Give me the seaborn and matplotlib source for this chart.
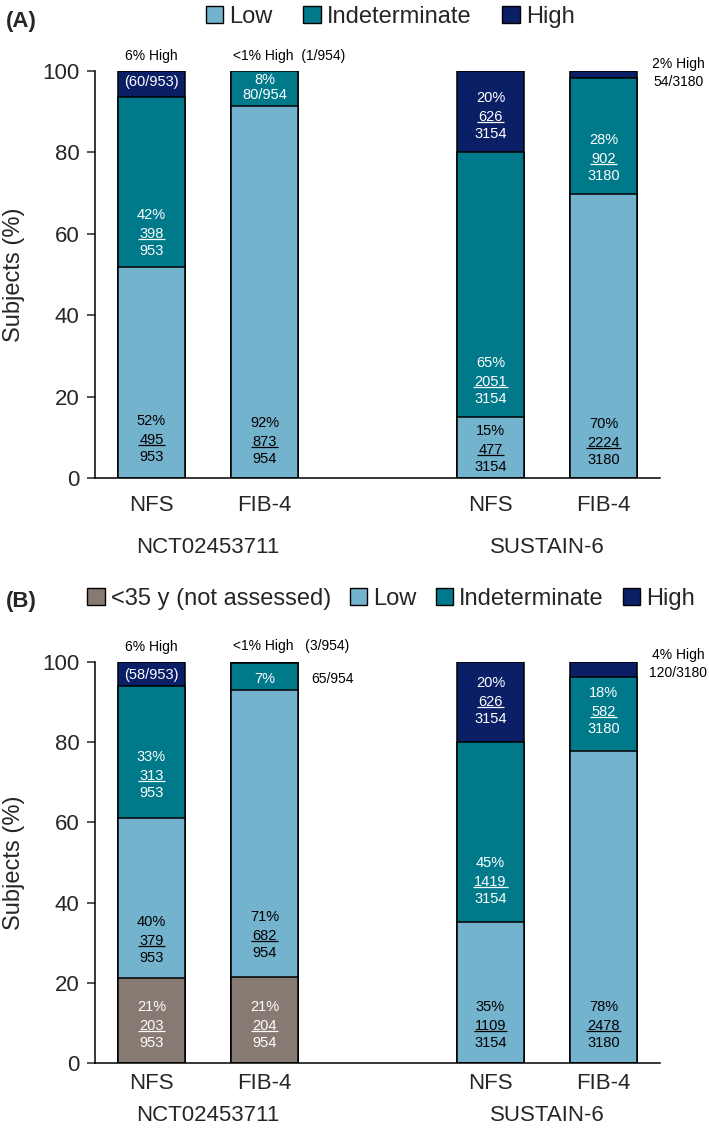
import numpy as np
import pandas as pd
import matplotlib
matplotlib.use("Agg")
import matplotlib.pyplot as plt
import seaborn as sns
from matplotlib.patches import Patch

# ---------------- data ----------------
studies = ["NCT02453711", "SUSTAIN-6"]
scores = ["NFS", "FIB-4", "NFS", "FIB-4"]

# Panel A (% of subjects)
a_low = [51.9, 91.5, 15.1, 69.9]
a_ind = [41.8, 8.4, 65.0, 28.4]
a_high = [6.3, 0.1, 19.9, 1.7]

# Panel B (% of subjects)
b_young = [21.3, 21.4, 0.0, 0.0]
b_low = [39.8, 71.5, 35.2, 77.9]
b_ind = [32.8, 6.8, 44.9, 18.3]
b_high = [6.1, 0.3, 19.9, 3.8]

legend_a = ["Low", "Indeterminate", "High"]
legend_b = ["<35 y (not assessed)", "Low", "Indeterminate", "High"]

# ---------------- style ----------------
C_YOUNG = "#867a72"
C_LOW = "#74b3cd"
C_IND = "#007a8b"
C_HIGH = "#0a1f66"

sns.set_theme(style="ticks")
plt.rcParams["font.family"] = ["Liberation Sans", "DejaVu Sans"]

POS = np.array([0, 1, 3, 4])
W = 0.6
ANN = 10.5

fig = plt.figure(figsize=(7.09, 11.32), dpi=100)
axA = fig.add_axes([95 / 709, 1 - 478 / 1132, 565 / 709, 407 / 1132])
axB = fig.add_axes([95 / 709, 1 - 1063 / 1132, 565 / 709, 401 / 1132])

numerators = []  # (ax, text, color) to underline later


def draw_bars(ax, layers):
    cum = np.zeros(len(POS))
    tops = []
    for vals, color in layers:
        cum = cum + np.asarray(vals, dtype=float)
        tops.append((cum.copy(), color))
    for top, color in reversed(tops):
        df = pd.DataFrame({"pos": POS, "top": top})
        sns.barplot(data=df, x="pos", y="top", native_scale=True, color=color,
                    saturation=1, edgecolor="black", linewidth=1.1, width=W,
                    errorbar=None, ax=ax)


def style_axis(ax, tick_pad, group_y):
    ax.set_xlim(-0.5, 4.5)
    ax.set_ylim(0, 100)
    ax.set_yticks([0, 20, 40, 60, 80, 100])
    ax.set_xticks(POS)
    ax.set_xticklabels(scores, fontsize=16)
    ax.tick_params(axis="x", length=0, pad=tick_pad)
    ax.tick_params(axis="y", length=6, width=1.1, pad=5, labelsize=16)
    ax.set_xlabel("")
    ax.set_ylabel("Subjects (%)", fontsize=17)
    ax.yaxis.set_label_coords(-0.124, 0.5)
    sns.despine(ax=ax)
    for s in ("left", "bottom"):
        ax.spines[s].set_linewidth(1.1)
        ax.spines[s].set_color("black")
    tr = ax.get_xaxis_transform()
    ax.text(0.5, group_y, studies[0], transform=tr, ha="center", va="center", fontsize=16)
    ax.text(3.5, group_y, studies[1], transform=tr, ha="center", va="center", fontsize=16)


def stacked_label(ax, x, y, pct, num, den, color):
    ax.text(x, y, pct, ha="center", va="center", fontsize=ANN, color=color)
    t = ax.text(x, y - 4.7, num, ha="center", va="center", fontsize=ANN, color=color)
    ax.text(x, y - 8.9, den, ha="center", va="center", fontsize=ANN, color=color)
    numerators.append((ax, t, color))


def plain(ax, x, y, s, color="black", ha="center", size=ANN):
    ax.text(x, y, s, ha=ha, va="center", fontsize=size, color=color, clip_on=False)


# ---------------- Panel A ----------------
draw_bars(axA, [(a_low, C_LOW), (a_ind, C_IND), (a_high, C_HIGH)])
style_axis(axA, 12, -0.17)

stacked_label(axA, 0, 64.6, "42%", "398", "953", "white")
stacked_label(axA, 0, 14.0, "52%", "495", "953", "black")
plain(axA, 0, 97.3, "(60/953)", "white")
plain(axA, 0, 103.6, "6% High", size=10)
plain(axA, 1, 97.8, "8%", "white")
plain(axA, 1, 94.1, "80/954", "white")
stacked_label(axA, 1, 13.5, "92%", "873", "954", "black")
plain(axA, 0.72, 103.6, "<1% High  (1/954)", ha="left", size=10)
stacked_label(axA, 3, 93.4, "20%", "626", "3154", "white")
stacked_label(axA, 3, 28.3, "65%", "2051", "3154", "white")
stacked_label(axA, 3, 11.5, "15%", "477", "3154", "black")
stacked_label(axA, 4, 83.0, "28%", "902", "3180", "white")
stacked_label(axA, 4, 13.3, "70%", "2224", "3180", "black")
plain(axA, 4.66, 101.6, "2% High", size=10)
plain(axA, 4.66, 97.3, "54/3180", size=10)

# ---------------- Panel B ----------------
draw_bars(axB, [(b_young, C_YOUNG), (b_low, C_LOW), (b_ind, C_IND), (b_high, C_HIGH)])
style_axis(axB, 7, -0.13)

stacked_label(axB, 0, 76.3, "33%", "313", "953", "white")
stacked_label(axB, 0, 35.2, "40%", "379", "953", "black")
stacked_label(axB, 0, 14.0, "21%", "203", "953", "white")
plain(axB, 0, 96.8, "(58/953)", "white")
plain(axB, 0, 103.7, "6% High", size=10)
plain(axB, 1, 95.8, "7%", "white")
plain(axB, 1.41, 95.8, "65/954", ha="left", size=10)
plain(axB, 0.72, 103.9, "<1% High   (3/954)", ha="left", size=10)
stacked_label(axB, 1, 36.4, "71%", "682", "954", "black")
stacked_label(axB, 1, 14.0, "21%", "204", "954", "white")
stacked_label(axB, 3, 94.8, "20%", "626", "3154", "white")
stacked_label(axB, 3, 49.9, "45%", "1419", "3154", "white")
stacked_label(axB, 3, 14.0, "35%", "1109", "3154", "black")
stacked_label(axB, 4, 92.3, "18%", "582", "3180", "white")
stacked_label(axB, 4, 14.0, "78%", "2478", "3180", "black")
plain(axB, 4.66, 101.7, "4% High", size=10)
plain(axB, 4.66, 97.3, "120/3180", size=10)

# ---------------- legends & panel tags ----------------
def handles(colors, labels):
    return [Patch(facecolor=c, edgecolor="black", linewidth=1.0, label=l)
            for c, l in zip(colors, labels)]

fig.legend(handles=handles([C_LOW, C_IND, C_HIGH], legend_a), loc="center",
           bbox_to_anchor=(390 / 709, 1 - 17 / 1132), ncol=3, frameon=False,
           fontsize=17, handlelength=0.75, handleheight=0.75, handletextpad=0.25,
           columnspacing=1.3, borderpad=0)
fig.legend(handles=handles([C_YOUNG, C_LOW, C_IND, C_HIGH], legend_b), loc="center",
           bbox_to_anchor=(391 / 709, 1 - 599 / 1132), ncol=4, frameon=False,
           fontsize=17, handlelength=0.75, handleheight=0.75, handletextpad=0.25,
           columnspacing=0.8, borderpad=0)

fig.text(6 / 709, 1 - 22 / 1132, "(A)", fontsize=16, fontweight="bold", va="center")
fig.text(6 / 709, 1 - 602 / 1132, "(B)", fontsize=16, fontweight="bold", va="center")

# underline the numerators (fraction bars), sized from the rendered text
fig.canvas.draw()
renderer = fig.canvas.get_renderer()
for ax, t, color in numerators:
    bb = t.get_window_extent(renderer)
    inv = ax.transData.inverted()
    (x0, y0) = inv.transform((bb.x0 - 1, bb.y0 + 2))
    (x1, _) = inv.transform((bb.x1 + 1, bb.y0 + 2))
    ax.plot([x0, x1], [y0, y0], color=color, lw=0.9, clip_on=False,
            solid_capstyle="butt")

fig.savefig("out.png", dpi=100)
